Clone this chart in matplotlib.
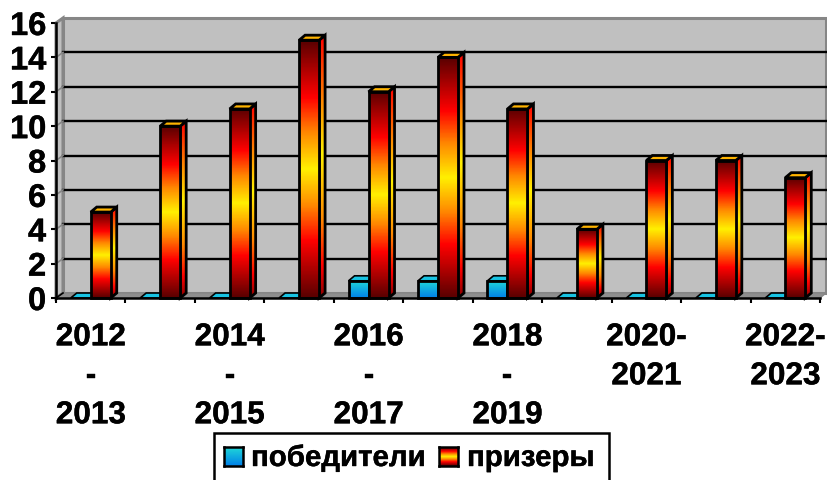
import numpy as np
import matplotlib
matplotlib.use('Agg')
import matplotlib.pyplot as plt
import matplotlib.patheffects as pe
from matplotlib.colors import LinearSegmentedColormap
from matplotlib.patches import Polygon, Rectangle

categories = ['2012\n-\n2013', '', '2014\n-\n2015', '', '2016\n-\n2017', '',
              '2018\n-\n2019', '', '2020-\n2021', '', '2022-\n2023']
winners = [0, 0, 0, 0, 1, 1, 1, 0, 0, 0, 0]
prize_winners = [5, 10, 11, 15, 12, 14, 11, 4, 8, 8, 7]
y_ticks = [0, 2, 4, 6, 8, 10, 12, 14, 16]
legend_labels = ['победители', 'призеры']

W, H = 828, 481
plt.rcParams['font.family'] = ['Liberation Sans', 'DejaVu Sans']
plt.rcParams['font.weight'] = 'bold'
heavy = [pe.withStroke(linewidth=0.3, foreground='black')]

fire = LinearSegmentedColormap.from_list(
    'fire', [(0, '#5a0000'), (0.22, '#ff0000'), (0.36, '#ff8a00'), (0.5, '#fff000'),
             (0.64, '#ff8a00'), (0.78, '#ff0000'), (1, '#5a0000')])
fire_side = LinearSegmentedColormap.from_list(
    'fire_side', [(0, '#ff0000'), (0.25, '#ff8a00'), (0.45, '#fff000'), (0.7, '#ff8a00'),
                  (0.88, '#ff0000'), (1, '#8a0000')])
water = LinearSegmentedColormap.from_list('water', ['#20d8d8', '#0080e8'])

fig = plt.figure(figsize=(W / 100, H / 100), dpi=100)
ax = fig.add_axes([56 / W, 1 - 299 / H, 764 / W, 275 / H])
ax.set_xlim(0, 11)
ax.set_ylim(0, 16)
ax.set_facecolor('none')
for s in ax.spines.values():
    s.set_visible(False)

# depth of the fake 3d box and of the bars, in data units
dx = 7 / (764 / 11)
dy = 5 / (275 / 16)
bx = 6 / (764 / 11)
by = 5 / (275 / 16)
bw = 20 / (764 / 11)


def face(pts, color, z, ec='black', lw=2.0):
    p = Polygon(pts, closed=True, fc=color, ec=ec, lw=lw, zorder=z,
                clip_on=False, joinstyle='miter')
    ax.add_patch(p)
    return p


def gradient(pts, x0, x1, y0, y1, cmap, z):
    p = face(pts, 'none', z + 0.1)
    g = np.linspace(0, 1, 200).reshape(-1, 1)
    im = ax.imshow(g, cmap=cmap, extent=[x0, x1, y0, y1], aspect='auto',
                   zorder=z, origin='upper', interpolation='bilinear')
    im.set_clip_path(p)
    im.set_clip_box(None)


# walls and floor
wall = '#c0c0c0'
edge = '#868686'
face([(dx, dy), (11 + dx * 0.85, dy), (11 + dx * 0.85, 16 + dy), (dx, 16 + dy)], wall, 1, ec=edge, lw=2.2)
face([(0, 0), (dx, dy), (dx, 16 + dy), (0, 16)], wall, 1, ec=edge, lw=2.2)
face([(0, 0), (11, 0), (11 + dx * 0.85, dy), (dx, dy)], '#8e8e8e', 1.5, ec=edge, lw=1)

for v in y_ticks[1:-1]:
    ax.plot([dx, 11 + dx * 0.85], [v + dy, v + dy], color='black', lw=1.7, zorder=2, clip_on=False)
for v in y_ticks:
    ax.plot([0, dx], [v, v + dy], color=edge if v else 'black', lw=1.2, zorder=2, clip_on=False)

# bars, left to right
for i, (a, b) in enumerate(zip(winners, prize_winners)):
    z = 5 + i
    l = i + 0.5 - bw
    m = i + 0.5
    r = i + 0.5 + bw
    # blue bar, flat when the value is 0
    if a > 0:
        gradient([(l, 0), (m, 0), (m, a), (l, a)], l, m, 0, a, water, z)
    face([(l, a), (m, a), (m + bx, a + by), (l + bx, a + by)], '#18c4e4', z + 0.2, lw=1.2)
    # red bar
    gradient([(r, 0), (r + bx, by), (r + bx, b + by), (r, b)], r, r + bx, 0, b + by, fire_side, z + 1)
    gradient([(m, 0), (r, 0), (r, b), (m, b)], m, r, 0, b, fire, z + 1.3)
    face([(m, b), (r, b), (r + bx, b + by), (m + bx, b + by)], '#ffb400', z + 1.6)

ax.axhline(0, color='black', lw=1.8, zorder=30, clip_on=False)
ax.axvline(0, color='black', lw=1.8, zorder=3, clip_on=False)

ax.set_yticks(y_ticks)
ax.tick_params(axis='y', length=3.6, width=1.5, pad=3.5, labelsize=23.5)
ax.set_xticks(np.arange(0, 12))
ax.set_xticklabels([])
ax.set_xticks(np.arange(11) + 0.5, minor=True)
ax.set_xticklabels(categories, minor=True, linespacing=1.39)
ax.tick_params(axis='x', which='major', length=3.6, width=1.5)
ax.tick_params(axis='x', which='minor', length=0, pad=17.5, labelsize=22.7)
for t in ax.get_yticklabels() + ax.get_xticklabels(minor=True):
    t.set_path_effects(heavy)

# legend box, cut by the bottom edge like the original
fig.add_artist(Rectangle((214 / W, -0.02), 395 / W, 1 - 434 / H + 0.02, transform=fig.transFigure,
                         fc='white', ec='black', lw=1.8))
for x0, cmap, text, tx in [(224, water, legend_labels[0], 251), (439, fire, legend_labels[1], 467)]:
    sw = fig.add_axes([x0 / W, 1 - 467 / H, 19 / W, 19 / H], zorder=40)
    sw.imshow(np.linspace(0, 1, 50).reshape(-1, 1), cmap=cmap, aspect='auto')
    sw.set_xticks([])
    sw.set_yticks([])
    for s in sw.spines.values():
        s.set_linewidth(1.8)
    fig.text(tx / W, 1 - 459 / H, text, fontsize=21.2, va='center', ha='left', zorder=40,
             path_effects=heavy)

plt.savefig('out.png', dpi=100)
